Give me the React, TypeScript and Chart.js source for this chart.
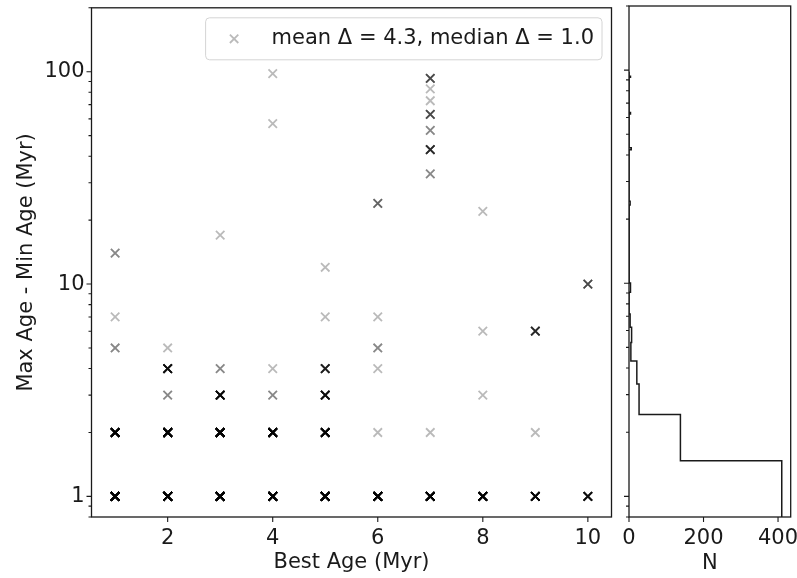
import React, { useEffect, useRef } from 'react';
import { Chart, registerables } from 'chart.js';

Chart.register(...registerables);

// ---- data: one entry per (best age, age spread) group, with the number of stars in it
const bestAge = [
  1, 1, 1, 1, 1,
  2, 2, 2, 2, 2,
  3, 3, 3, 3, 3,
  4, 4, 4, 4, 4, 4,
  5, 5, 5, 5, 5, 5,
  6, 6, 6, 6, 6, 6,
  7, 7, 7, 7, 7, 7, 7, 7, 7,
  8, 8, 8, 8,
  9, 9, 9,
  10, 10,
];
const ageSpread = [
  1, 2, 5, 7, 14,
  1, 2, 3, 4, 5,
  1, 2, 3, 4, 17,
  1, 2, 3, 4, 57, 98,
  1, 2, 3, 4, 7, 12,
  1, 2, 4, 5, 7, 24,
  1, 2, 33, 43, 53, 63, 73, 83, 93,
  1, 3, 6, 22,
  1, 2, 6,
  1, 10,
];
const nStars = [
  60, 20, 2, 1, 2,
  70, 40, 2, 10, 1,
  60, 35, 12, 2, 1,
  50, 25, 2, 1, 1, 1,
  50, 15, 10, 7, 1, 1,
  40, 1, 1, 2, 1, 3,
  30, 1, 2, 6, 2, 4, 1, 1, 4,
  25, 1, 1, 1,
  15, 1, 6,
  10, 4,
];

const legendLabel = 'mean Δ = 4.3, median Δ = 1.0';
const xTitle = 'Best Age (Myr)';
const yTitle = 'Max Age - Min Age (Myr)';
const histTitle = 'N';

const xTicks = [2, 4, 6, 8, 10];
const yTicks = [0.8, 0.9, 1, 2, 3, 4, 5, 6, 7, 8, 9, 10, 20, 30, 40, 50, 60, 70, 80, 90, 100, 200];
const yMajor = [1, 10, 100];
const histTicks = [0, 200, 400];

const xMin = 0.55;
const xMax = 10.45;
const yMin = 0.8;
const yMax = 200;
const histMax = 434;
const binStart = 0.52;
const binWidth = 0.95;

const FONT = { family: 'DejaVu Sans', size: 21 };
const TEXT = '#1a1a1a';
const MARK = 'rgba(0,0,0,0.27)';

function framePlugin() {
  return {
    id: 'frameTicks',
    afterDraw(chart: any) {
      const { ctx, chartArea: a } = chart;
      ctx.save();
      ctx.strokeStyle = '#1a1a1a';
      ctx.lineWidth = 1.3;
      ctx.strokeRect(a.left, a.top, a.right - a.left, a.bottom - a.top);
      ctx.lineWidth = 1.1;
      const xs = chart.scales.x;
      const ys = chart.scales.y;
      ctx.beginPath();
      xs.ticks.forEach((t: any) => {
        const p = xs.getPixelForValue(t.value);
        ctx.moveTo(p, a.bottom);
        ctx.lineTo(p, a.bottom + 5);
      });
      ys.ticks.forEach((t: any) => {
        const p = ys.getPixelForValue(t.value);
        if (p < a.top - 0.5 || p > a.bottom + 0.5) return;
        const len = yMajor.includes(t.value) ? 5 : 3;
        ctx.moveTo(a.left, p);
        ctx.lineTo(a.left - len, p);
      });
      ctx.stroke();
      ctx.restore();
    },
  };
}

const legendPlugin = {
  id: 'boxLegend',
  afterDraw(chart: any) {
    const { ctx, chartArea: a } = chart;
    ctx.save();
    ctx.font = `${FONT.size}px "${FONT.family}"`;
    const tw = ctx.measureText(legendLabel).width;
    const w = tw + 74;
    const h = 42;
    const x = a.right - 9.5 - w;
    const y = a.top + 10;
    ctx.beginPath();
    ctx.roundRect(x, y, w, h, 4);
    ctx.fillStyle = 'rgba(255,255,255,0.8)';
    ctx.fill();
    ctx.strokeStyle = '#d4d4d4';
    ctx.lineWidth = 1;
    ctx.stroke();
    const mx = x + 28.5;
    const my = y + h / 2;
    ctx.beginPath();
    ctx.strokeStyle = MARK;
    ctx.lineWidth = 1.8;
    ctx.moveTo(mx - 4.2, my - 4.2);
    ctx.lineTo(mx + 4.2, my + 4.2);
    ctx.moveTo(mx + 4.2, my - 4.2);
    ctx.lineTo(mx - 4.2, my + 4.2);
    ctx.stroke();
    ctx.fillStyle = TEXT;
    ctx.textBaseline = 'middle';
    ctx.textAlign = 'left';
    ctx.fillText(legendLabel, x + 66, my);
    ctx.restore();
  },
};

function buildPoints() {
  const pts: { x: number; y: number }[] = [];
  for (let i = 0; i < bestAge.length; i++) {
    for (let k = 0; k < nStars[i]; k++) pts.push({ x: bestAge[i], y: ageSpread[i] });
  }
  return pts;
}

function buildHistPath() {
  const maxV = Math.max(...ageSpread);
  const nBins = Math.floor((maxV - binStart) / binWidth) + 1;
  const counts = new Array(nBins).fill(0);
  for (let i = 0; i < ageSpread.length; i++) {
    const b = Math.floor((ageSpread[i] - binStart) / binWidth);
    counts[b] += nStars[i];
  }
  const path: { x: number; y: number }[] = [{ x: 0, y: binStart }];
  for (let b = 0; b < nBins; b++) {
    const lo = binStart + b * binWidth;
    const hi = lo + binWidth;
    path.push({ x: counts[b], y: lo });
    path.push({ x: counts[b], y: hi });
  }
  path.push({ x: 0, y: binStart + nBins * binWidth });
  return path;
}

function yScale(showLabels: boolean, width: number) {
  return {
    type: 'logarithmic',
    min: yMin,
    max: yMax,
    afterBuildTicks: (s: any) => {
      s.ticks = yTicks.map((v) => ({ value: v, major: yMajor.includes(v) }));
    },
    afterFit: (s: any) => {
      s.width = width;
      s.paddingTop = 0;
      s.paddingBottom = 0;
    },
    grid: { display: false, drawTicks: false },
    border: { display: false },
    ticks: {
      display: showLabels,
      font: FONT,
      color: TEXT,
      padding: 7,
      autoSkip: false,
      callback: (v: any) => (yMajor.includes(v) ? String(v) : ''),
    },
    title: showLabels
      ? { display: true, text: yTitle, font: FONT, color: TEXT, padding: { top: 14, bottom: 0 } }
      : { display: false },
  };
}

function xScale(min: number, max: number, ticks: number[], title: string, bottomPad: number) {
  return {
    type: 'linear',
    min,
    max,
    afterBuildTicks: (s: any) => {
      s.ticks = ticks.map((v) => ({ value: v }));
    },
    afterFit: (s: any) => {
      s.height = 61;
      s.paddingLeft = 0;
      s.paddingRight = 0;
    },
    grid: { display: false, drawTicks: false },
    border: { display: false },
    ticks: { font: FONT, color: TEXT, padding: 9, autoSkip: false, maxRotation: 0, callback: (v: any) => String(v) },
    title: { display: true, text: title, font: FONT, color: TEXT, padding: { top: 0, bottom: bottomPad } },
  };
}

export default function App() {
  const leftRef = useRef<HTMLCanvasElement>(null);
  const rightRef = useRef<HTMLCanvasElement>(null);

  useEffect(() => {
    const left = new Chart(leftRef.current as HTMLCanvasElement, {
      type: 'scatter',
      data: {
        datasets: [
          {
            label: legendLabel,
            data: buildPoints(),
            pointStyle: 'crossRot',
            pointRadius: 6,
            borderWidth: 1.8,
            borderColor: MARK,
            backgroundColor: MARK,
          },
        ],
      },
      options: {
        responsive: false,
        animation: false,
        events: [],
        layout: { padding: { top: 6, right: 8.5, left: 0, bottom: 0 } },
        plugins: { legend: { display: false }, tooltip: { enabled: false } },
        scales: {
          x: xScale(xMin, xMax, xTicks, xTitle, 3),
          y: yScale(true, 91.5),
        },
      } as any,
      plugins: [framePlugin(), legendPlugin],
    });

    const right = new Chart(rightRef.current as HTMLCanvasElement, {
      type: 'scatter',
      data: {
        datasets: [
          {
            data: buildHistPath(),
            showLine: true,
            pointRadius: 0,
            borderColor: '#1a1a1a',
            borderWidth: 1.5,
            tension: 0,
            fill: false,
          },
        ],
      },
      options: {
        responsive: false,
        animation: false,
        events: [],
        layout: { padding: { top: 6, right: 6.3, left: 0, bottom: 0 } },
        plugins: { legend: { display: false }, tooltip: { enabled: false } },
        scales: {
          x: xScale(0, histMax, histTicks, histTitle, 2),
          y: yScale(false, 17),
        },
      } as any,
      plugins: [framePlugin()],
    });

    return () => {
      left.destroy();
      right.destroy();
    };
  }, []);

  return (
    <div style={{ position: 'fixed', left: 0, top: 0, width: 797, height: 578, background: '#fff', overflow: 'hidden' }}>
      <canvas ref={leftRef} width={620} height={578} style={{ position: 'absolute', left: 0, top: 0 }} />
      <canvas ref={rightRef} width={185} height={578} style={{ position: 'absolute', left: 612, top: 0 }} />
    </div>
  );
}
